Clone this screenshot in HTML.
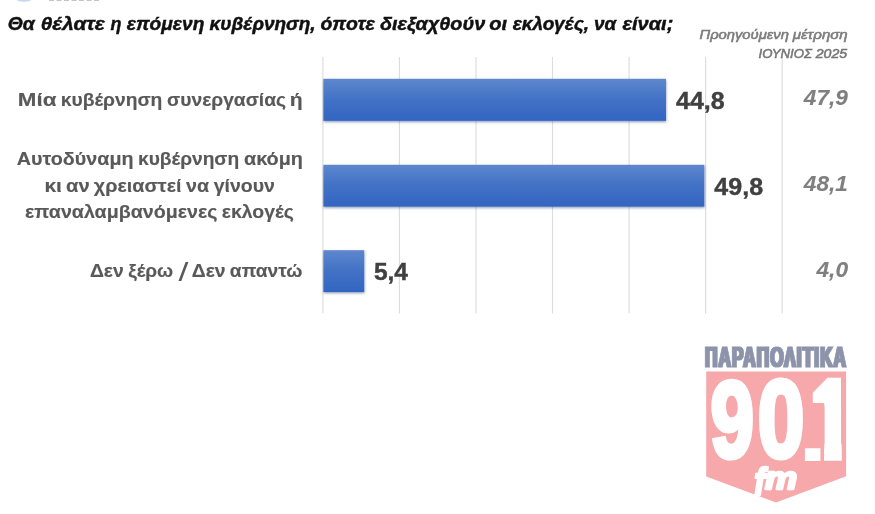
<!DOCTYPE html>
<html lang="el">
<head>
<meta charset="utf-8">
<title>Δημοσκόπηση</title>
<style>
html,body{margin:0;padding:0;background:#fff;}
body{width:875px;height:514px;overflow:hidden;font-family:"Liberation Sans",sans-serif;}
svg{display:block;}
svg text{font-family:"Liberation Sans",sans-serif;}
</style>
</head>
<body>
<svg width="875" height="514" viewBox="0 0 875 514">
<defs>
<linearGradient id="bar" x1="0" y1="0" x2="0" y2="1">
<stop offset="0" stop-color="#5e87cd"/>
<stop offset="0.45" stop-color="#4473c6"/>
<stop offset="1" stop-color="#3265c1"/>
</linearGradient>
<filter id="sh" x="-5%" y="-20%" width="110%" height="150%"><feDropShadow dx="0.3" dy="1.3" stdDeviation="1.0" flood-color="#1e3a78" flood-opacity="0.5"/></filter>
<filter id="fat" x="-2%" y="-10%" width="104%" height="120%"><feMorphology operator="dilate" radius="0.65 0.01"/></filter>
<filter id="soft"><feGaussianBlur stdDeviation="0.6"/></filter>
</defs>
<rect width="875" height="514" fill="#ffffff"/>

<path d="M16 0 H32 Q29 1.8 24 1.8 Q19 1.8 16 0Z" fill="#c4d9ee"/>
<line x1="49" y1="0.4" x2="100" y2="0.4" stroke="#c4c4c4" stroke-width="1.3" stroke-dasharray="5 2.5"/>
<line x1="322.9" y1="57" x2="322.9" y2="313.5" stroke="#dddddd" stroke-width="1.15"/>
<line x1="399.4" y1="57" x2="399.4" y2="313.5" stroke="#dddddd" stroke-width="1.15"/>
<line x1="476.0" y1="57" x2="476.0" y2="313.5" stroke="#dddddd" stroke-width="1.15"/>
<line x1="552.5" y1="57" x2="552.5" y2="313.5" stroke="#dddddd" stroke-width="1.15"/>
<line x1="629.1" y1="57" x2="629.1" y2="313.5" stroke="#dddddd" stroke-width="1.15"/>
<line x1="705.6" y1="57" x2="705.6" y2="313.5" stroke="#dddddd" stroke-width="1.15"/>
<line x1="782.2" y1="57" x2="782.2" y2="313.5" stroke="#dddddd" stroke-width="1.15"/>
<rect x="323.4" y="78.8" width="342.6" height="42.0" fill="url(#bar)" filter="url(#sh)"/>
<rect x="323.4" y="164.8" width="380.9" height="41.8" fill="url(#bar)" filter="url(#sh)"/>
<rect x="323.4" y="250.2" width="40.8" height="41.8" fill="url(#bar)" filter="url(#sh)"/>
<g id="title" font-size="18.5" font-weight="bold" font-style="italic" fill="#111111" stroke="#111111" stroke-width="0.45">
<text transform="translate(7.76,29.5) scale(1.0421,1)">Θα</text>
<text transform="translate(40.66,29.5) scale(1.1217,1)">θέλατε</text>
<text transform="translate(110.49,29.5) scale(0.9706,1)">η</text>
<text transform="translate(126.83,29.5) scale(1.0350,1)">επόμενη</text>
<text transform="translate(209.55,29.5) scale(1.0271,1)">κυβέρνηση,</text>
<text transform="translate(320.62,29.5) scale(1.0503,1)">όποτε</text>
<text transform="translate(380.03,29.5) scale(1.0707,1)">διεξαχθούν</text>
<text transform="translate(489.18,29.5) scale(1.0902,1)">οι</text>
<text transform="translate(512.63,29.5) scale(1.0282,1)">εκλογές,</text>
<text transform="translate(593.91,29.5) scale(1.0197,1)">να</text>
<text transform="translate(622.46,29.5) scale(1.0813,1)">είναι;</text>
</g>
<g id="h1" font-size="13.2" font-weight="normal" font-style="italic" fill="#7c7c7c" stroke="#7c7c7c" stroke-width="0.55">
<text transform="translate(699.44,38.9) scale(1.1185,1)">Προηγούμενη</text>
<text transform="translate(792.75,38.9) scale(1.1422,1)">μέτρηση</text>
</g>
<g id="h2" font-size="13.2" font-weight="normal" font-style="italic" fill="#767676" stroke="#767676" stroke-width="0.55">
<text transform="translate(758.50,57.9) scale(0.9997,1)">ΙΟΥΝΙΟΣ</text>
<text transform="translate(815.69,57.9) scale(1.0704,1)">2025</text>
</g>
<g id="c1" font-size="17.9" font-weight="bold" font-style="normal" fill="#595959" stroke="#595959" stroke-width="0.15">
<text transform="translate(17.84,106.3) scale(1.2491,1)">Μία</text>
<text transform="translate(60.73,106.3) scale(1.0759,1)">κυβέρνηση</text>
<text transform="translate(167.06,106.3) scale(1.0757,1)">συνεργασίας</text>
<text transform="translate(289.65,106.3) scale(1.1841,1)">ή</text>
</g>
<g id="c2a" font-size="17.9" font-weight="bold" font-style="normal" fill="#595959" stroke="#595959" stroke-width="0.15">
<text transform="translate(16.85,164.9) scale(1.1017,1)">Αυτοδύναμη</text>
<text transform="translate(137.98,164.9) scale(1.0711,1)">κυβέρνηση</text>
<text transform="translate(243.96,164.9) scale(1.1085,1)">ακόμη</text>
</g>
<g id="c2b" font-size="17.9" font-weight="bold" font-style="normal" fill="#595959" stroke="#595959" stroke-width="0.15">
<text transform="translate(44.44,191.5) scale(1.1706,1)">κι</text>
<text transform="translate(66.11,191.5) scale(1.1288,1)">αν</text>
<text transform="translate(93.86,191.5) scale(1.1025,1)">χρειαστεί</text>
<text transform="translate(186.12,191.5) scale(1.1001,1)">να</text>
<text transform="translate(213.71,191.5) scale(1.0895,1)">γίνουν</text>
</g>
<g id="c2c" font-size="17.9" font-weight="bold" font-style="normal" fill="#595959" stroke="#595959" stroke-width="0.15">
<text transform="translate(24.98,217.6) scale(1.0986,1)">επαναλαμβανόμενες</text>
<text transform="translate(221.71,217.6) scale(1.0842,1)">εκλογές</text>
</g>
<g id="c3" font-size="17.9" font-weight="bold" font-style="normal" fill="#595959" stroke="#595959" stroke-width="0.15">
<text transform="translate(89.89,277.4) scale(1.0805,1)">Δεν</text>
<text transform="translate(128.14,277.4) scale(1.0685,1)">ξέρω</text>
<text transform="translate(178.6,281.06) scale(1.8667,1.3429)" font-size="19" font-weight="normal" stroke="none">/</text>
<text transform="translate(191.75,277.4) scale(1.0805,1)">Δεν</text>
<text transform="translate(229.86,277.4) scale(1.0707,1)">απαντώ</text>
</g>
<g id="v1" font-size="23.2" font-weight="bold" font-style="normal" fill="#404040" stroke="#404040" stroke-width="0.4">
<text transform="translate(676.03,108.6) scale(1.0780,1)">44,8</text>
</g>
<g id="v2" font-size="23.2" font-weight="bold" font-style="normal" fill="#404040" stroke="#404040" stroke-width="0.4">
<text transform="translate(714.33,194.5) scale(1.0802,1)">49,8</text>
</g>
<g id="v3" font-size="23.2" font-weight="bold" font-style="normal" fill="#404040" stroke="#404040" stroke-width="0.4">
<text transform="translate(373.91,280.1) scale(1.0560,1)">5,4</text>
</g>
<g id="p1" font-size="21.3" font-weight="bold" font-style="italic" fill="#7f7f7f" stroke="#7f7f7f" stroke-width="0.1">
<text transform="translate(803.87,104.6) scale(1.0635,1)">47,9</text>
</g>
<g id="p2" font-size="21.3" font-weight="bold" font-style="italic" fill="#7f7f7f" stroke="#7f7f7f" stroke-width="0.1">
<text transform="translate(803.87,191.4) scale(1.0617,1)">48,1</text>
</g>
<g id="p3" font-size="21.3" font-weight="bold" font-style="italic" fill="#7f7f7f" stroke="#7f7f7f" stroke-width="0.1">
<text transform="translate(816.47,277.2) scale(1.0689,1)">4,0</text>
</g>
<g id="logo" filter="url(#soft)">
<path d="M706.2 371.5 H846.1 V476.3 L776 502.4 L706.2 476.6 Z" fill="#f7a8ab"/>
<text id="para" filter="url(#fat)" letter-spacing="1.3" transform="translate(705.04,366.68) scale(0.857,1.4305)" font-size="20" font-weight="bold" font-style="normal" fill="#8d93aa" stroke="#8d93aa" stroke-width="0.6" stroke-linejoin="miter">ΠΑΡΑΠΟΛΙΤΙΚΑ</text>
<g id="freq"><text id="d9" transform="translate(710.52,457.2) scale(0.7812,1.0851)" font-size="100" font-weight="bold" font-style="normal" fill="#ffffff" stroke="#ffffff" stroke-width="4.8" stroke-linejoin="miter">9</text><text id="d0" transform="translate(757.74,457.47) scale(0.8381,1.0931)" font-size="100" font-weight="bold" font-style="normal" fill="#ffffff" stroke="#ffffff" stroke-width="4.8" stroke-linejoin="miter">0</text><text id="dd" transform="translate(797.61,460.5) scale(1.0947,0.8467)" font-size="100" font-weight="bold" font-style="normal" fill="#ffffff">.</text><clipPath id="clipOne"><rect x="800" y="370" width="30" height="33"/><rect x="824.2" y="370" width="17.4" height="90.6"/></clipPath><g clip-path="url(#clipOne)"><text id="d1" transform="translate(811.26,460.5) scale(0.714,1.127)" font-size="100" font-weight="bold" fill="#ffffff" stroke="#ffffff" stroke-width="9.3" stroke-linejoin="miter">1</text></g></g>
<g id="band"><text id="lf" transform="translate(754.3,494.76) scale(0.8169,0.9905)" font-size="40" font-weight="bold" font-style="italic" fill="#ffffff" stroke="#ffffff" stroke-width="2.6" stroke-linejoin="round">f</text><text id="lm" transform="translate(765.08,489.02) scale(0.9048,0.7837)" font-size="40" font-weight="bold" font-style="italic" fill="#ffffff" stroke="#ffffff" stroke-width="3.0" stroke-linejoin="round">m</text></g>
</g>
</svg>
</body>
</html>
